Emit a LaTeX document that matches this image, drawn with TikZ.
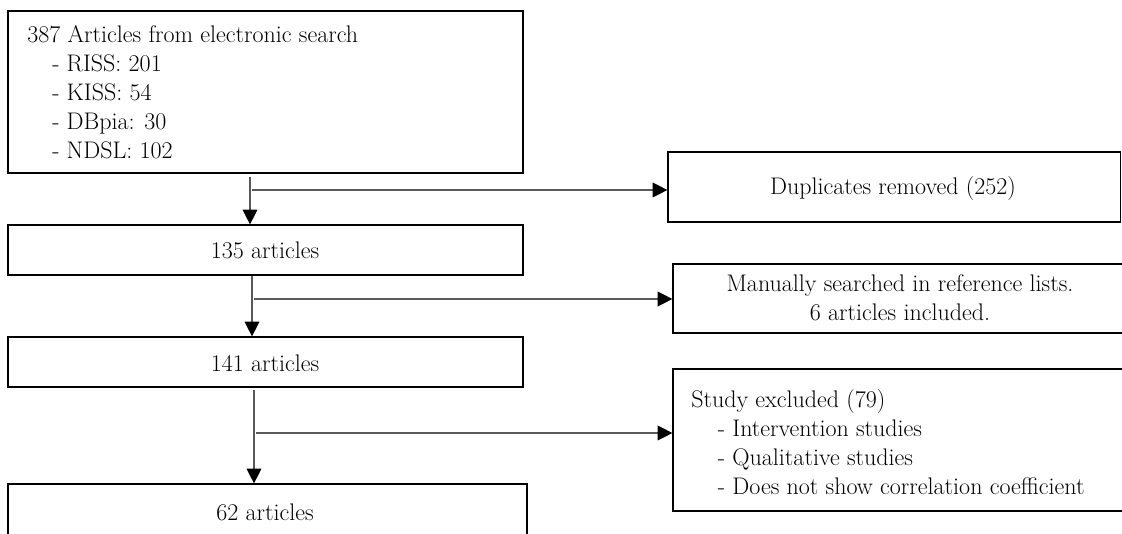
\documentclass[tikz,border=0pt]{standalone}
\usetikzlibrary{arrows.meta,fit}
\begin{document}
\begin{tikzpicture}[x=0.75pt,y=-0.75pt,
  box/.style={draw=black,line width=0.9pt,inner sep=0pt},
  txt/.style={inner sep=0pt,font=\fontsize{18pt}{21.75pt}\selectfont},
  conn/.style={draw=black!65,line width=0.9pt,-{Triangle[length=11pt,width=11pt,color=black]}}]
\useasboundingbox (0,0) rectangle (1122,533);
\clip (0,0) rectangle (1122,533);
% left column boxes
\node[box,fit={(8,11)(523,173)}] (b1) {};
\node[txt,anchor=north west,align=left] (t1) at (27,25) {387 Articles from electronic search\\
\hspace*{18.75pt}- RISS: 201\\
\hspace*{18.75pt}- KISS: 54\\
\hspace*{18.75pt}- DBpia: 30\\
\hspace*{18.75pt}- NDSL: 102};
\node[box,fit={(8,225)(523,275)}] (b2) {};
\node[txt] (t2) at (265,250) {135 articles};
\node[box,fit={(8,337)(523,387)}] (b3) {};
\node[txt] (t3) at (265,363) {141 articles};
\node[box,fit={(8,484)(527,545)}] (b4) {};
\node[txt] (t4) at (265,512) {62 articles};
% right column boxes
\node[box,fit={(668,152)(1120.5,222)}] (d1) {};
\node[txt] (s1) at (893,189) {Duplicates removed (252)};
\node[box,fit={(673,264)(1135,333)}] (d2) {};
\node[txt,align=center] (s2) at (900,298) {Manually searched in reference lists.\\6 articles included.};
\node[box,fit={(673,369)(1135,511)}] (d3) {};
\node[txt,anchor=north west,align=left] (s3) at (691,389) {Study excluded (79)\\
\hspace*{20pt}- Intervention studies\\
\hspace*{20pt}- Qualitative studies\\
\hspace*{20pt}- Does not show correlation coefficient};
% connectors
\coordinate (j1) at (250,190);
\coordinate (j2) at (252,299);
\coordinate (j3) at (254,433);
\draw[conn] (b1.south -| j1) ++(0,3) -- (b2.north -| j1);
\draw[conn] (j1) ++(2,0) -- (d1.west |- j1);
\draw[conn] (b2.south -| j2) -- (b3.north -| j2);
\draw[conn] (j2) ++(2,0) -- (d2.west |- j2);
\draw[conn] (b3.south -| j3) ++(0,2) -- (b4.north -| j3);
\draw[conn] (j3) ++(2,0) -- (d3.west |- j3);
\end{tikzpicture}
\end{document}
